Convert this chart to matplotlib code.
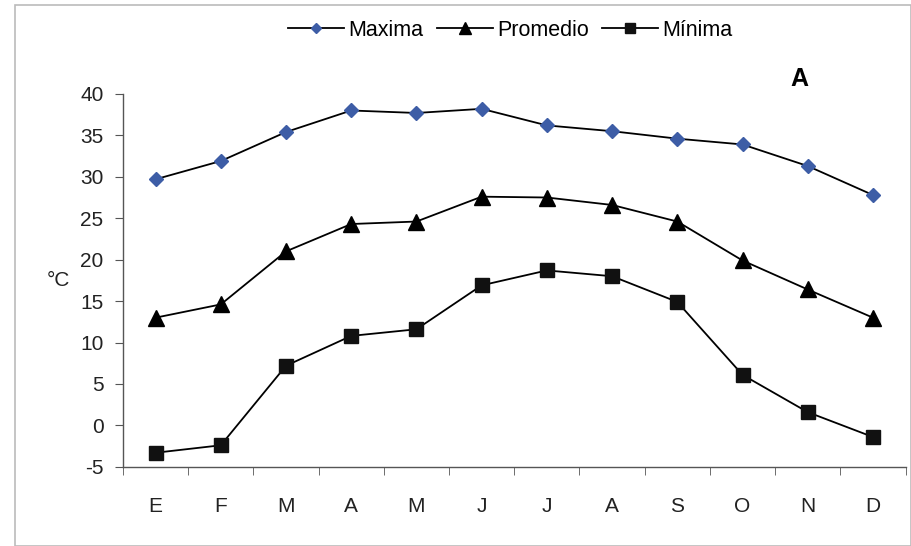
import matplotlib.pyplot as plt
import numpy as np
from matplotlib.patches import Rectangle

plt.rcParams['font.family'] = ['Liberation Sans', 'DejaVu Sans']
plt.rcParams['axes.unicode_minus'] = False

meses = ['E', 'F', 'M', 'A', 'M', 'J', 'J', 'A', 'S', 'O', 'N', 'D']
maxima = [29.7, 31.9, 35.4, 38.0, 37.7, 38.2, 36.2, 35.5, 34.6, 33.9, 31.3, 27.8]
promedio = [13.0, 14.6, 21.0, 24.3, 24.6, 27.6, 27.5, 26.6, 24.6, 19.9, 16.4, 13.0]
minima = [-3.3, -2.4, 7.2, 10.8, 11.6, 16.9, 18.7, 18.0, 14.9, 6.1, 1.6, -1.4]
yticks = [-5, 0, 5, 10, 15, 20, 25, 30, 35, 40]

fig = plt.figure(figsize=(9.11, 5.46), dpi=100)
ax = fig.add_axes([0.135, 0.145, 0.859, 0.683])

x = np.arange(len(meses))
ax.plot(x, maxima, color='black', lw=1.3, marker='D', ms=7,
        mfc='#3d5da6', mec='#3d5da6', label='Maxima')
ax.plot(x, promedio, color='black', lw=1.3, marker='^', ms=11,
        mfc='black', mec='black', label='Promedio')
ax.plot(x, minima, color='black', lw=1.3, marker='s', ms=10,
        mfc='#111111', mec='#111111', label='Mínima')

ax.set_xlim(-0.5, len(meses) - 0.5)
ax.set_ylim(-5, 40)
ax.set_yticks(yticks)
ax.set_xticks(x)
ax.set_xticklabels(meses)
ax.set_xticks(np.arange(-0.5, len(meses)), minor=True)
ax.tick_params(axis='x', which='major', length=0, pad=22, labelsize=15, colors='#222222')
ax.tick_params(axis='x', which='minor', length=6, color='#555555', direction='out')
ax.tick_params(axis='y', length=6, color='#555555', labelsize=15, colors='#222222', pad=8)

for s in ['top', 'right']:
    ax.spines[s].set_visible(False)
for s in ['left', 'bottom']:
    ax.spines[s].set_color('#555555')
    ax.spines[s].set_linewidth(1.0)

ax.set_ylabel('°C', rotation=0, fontsize=15, color='#222222', labelpad=16, va='center')

fig.legend(loc='center', bbox_to_anchor=(0.56, 0.945), ncol=3, frameon=False,
           fontsize=15.5, handlelength=2.6, handletextpad=0.2, columnspacing=0.6,
           markerscale=0.75)

fig.text(0.878, 0.855, 'A', fontsize=18, fontweight='bold', ha='center', va='center')

fig.patches.append(Rectangle((0.016, 0.0), 0.984, 0.99, transform=fig.transFigure,
                             fill=False, edgecolor='#bbbbbb', lw=1.2))

fig.savefig('out.png', dpi=100)
